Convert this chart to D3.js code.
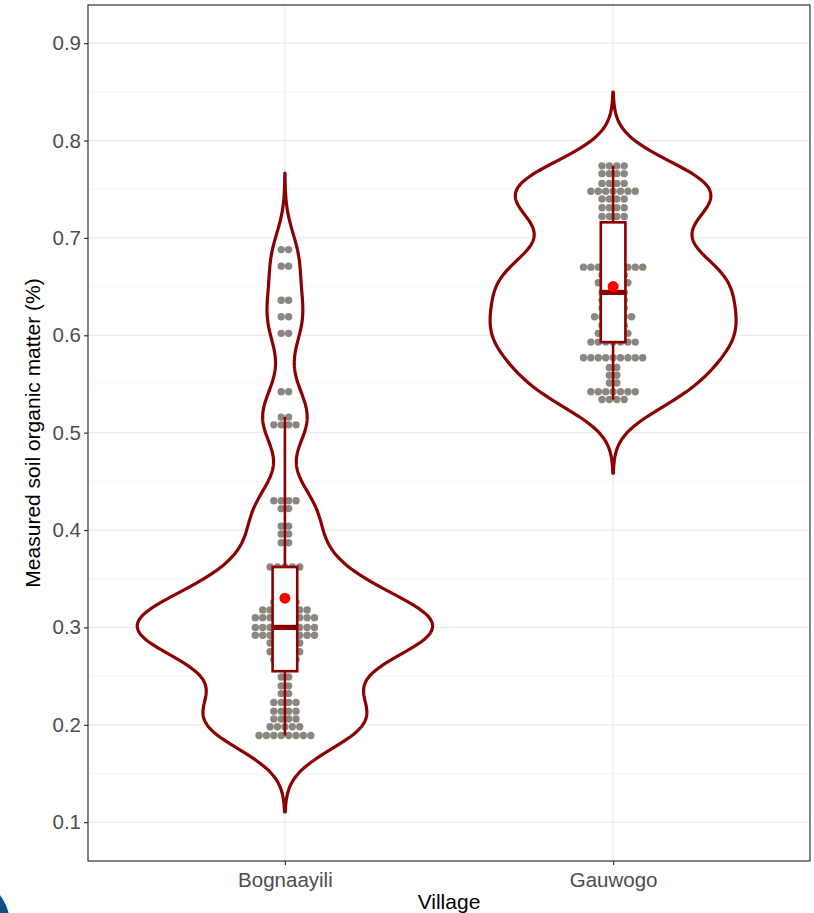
<!DOCTYPE html>
<html>
<head>
<meta charset="utf-8">
<script src="https://cdn.jsdelivr.net/npm/d3@7"></script>
<style>
  body { margin: 0; background: #fff; }
  text { font-family: "Liberation Sans", Arial, sans-serif; }
</style>
</head>
<body>
<div id="wrapper"></div>
<script>
// categories
const villages = ["Bognaayili", "Gauwogo"];

// dot rows: value of each row and number of dots in it
const bogRowValues = [0.189, 0.198, 0.206, 0.214, 0.223, 0.232, 0.240, 0.249, 0.259, 0.267, 0.275, 0.284, 0.292, 0.300, 0.310, 0.318, 0.326, 0.335, 0.344, 0.353, 0.362, 0.387, 0.396, 0.404, 0.422, 0.430, 0.508, 0.516, 0.542, 0.602, 0.619, 0.636, 0.671, 0.688];
const bogRowCounts = [8, 5, 4, 4, 4, 2, 2, 2, 2, 4, 5, 5, 9, 9, 9, 7, 4, 3, 3, 3, 5, 2, 2, 2, 2, 4, 4, 2, 2, 2, 2, 2, 2, 2];
const gauRowValues = [0.534, 0.542, 0.551, 0.559, 0.567, 0.577, 0.593, 0.602, 0.610, 0.619, 0.628, 0.636, 0.644, 0.654, 0.662, 0.670, 0.679, 0.688, 0.696, 0.705, 0.713, 0.722, 0.731, 0.740, 0.748, 0.756, 0.766, 0.774];
const gauRowCounts = [4, 7, 2, 2, 2, 9, 7, 5, 4, 6, 4, 4, 4, 5, 4, 9, 1, 2, 2, 2, 1, 4, 4, 4, 7, 4, 4, 4];

// box plot stats (Bognaayili, Gauwogo)
const boxLow = [0.189, 0.534];
const boxQ1 = [0.255, 0.593];
const boxMedian = [0.300, 0.644];
const boxQ3 = [0.362, 0.716];
const boxHigh = [0.516, 0.774];
const means = [0.330, 0.650];

const yTicks = [0.1, 0.2, 0.3, 0.4, 0.5, 0.6, 0.7, 0.8, 0.9];
const yMinor = [0.15, 0.25, 0.35, 0.45, 0.55, 0.65, 0.75, 0.85];

const rows = [
  {values: bogRowValues, counts: bogRowCounts},
  {values: gauRowValues, counts: gauRowCounts}
];

const width = 814, height = 913;
const margin = {top: 5, right: 4, bottom: 52, left: 88};
const dark = "#8b0000";

const svg = d3.select("#wrapper").append("svg")
  .attr("width", width)
  .attr("height", height);

const xScale = d3.scalePoint()
  .domain(villages)
  .range([margin.left, width - margin.right])
  .padding(0.6);

const yScale = d3.scaleLinear()
  .domain([0.0601, 0.9392])
  .range([height - margin.bottom, margin.top]);

// grid
svg.append("g").selectAll("line").data(yMinor).join("line")
  .attr("x1", margin.left).attr("x2", width - margin.right)
  .attr("y1", d => yScale(d)).attr("y2", d => yScale(d))
  .attr("stroke", "#f2f2f2").attr("stroke-width", 0.8);
svg.append("g").selectAll("line").data(yTicks).join("line")
  .attr("x1", margin.left).attr("x2", width - margin.right)
  .attr("y1", d => yScale(d)).attr("y2", d => yScale(d))
  .attr("stroke", "#ebebeb").attr("stroke-width", 1.3);
svg.append("g").selectAll("line").data(villages).join("line")
  .attr("x1", d => xScale(d)).attr("x2", d => xScale(d))
  .attr("y1", margin.top).attr("y2", height - margin.bottom)
  .attr("stroke", "#ebebeb").attr("stroke-width", 1.3);

// observations from the dot rows
const obs = rows.map(r => r.values.flatMap((v, i) => d3.range(r.counts[i]).map(() => v)));

// gaussian kde like R's density(), bw.nrd0, cut = 3
function nrd0(v) {
  const sd = d3.deviation(v);
  const iqr = (d3.quantile(v, 0.75) - d3.quantile(v, 0.25)) / 1.34;
  return 0.9 * Math.min(sd, iqr) * Math.pow(v.length, -0.2);
}
function kde(v) {
  const bw = nrd0(v);
  const lo = d3.min(v) - 3 * bw, hi = d3.max(v) + 3 * bw;
  const k = 1 / (v.length * bw * Math.sqrt(2 * Math.PI));
  return d3.range(512).map(i => {
    const t = lo + (hi - lo) * i / 511;
    return [t, k * d3.sum(v, xi => Math.exp(-0.5 * ((t - xi) / bw) ** 2))];
  });
}
const dens = obs.map(kde);
const maxDens = d3.max(dens, d => d3.max(d, p => p[1]));
const halfMax = 0.45 * xScale.step();

villages.forEach((v, i) => {
  const cx = xScale(v);
  const area = d3.area()
    .x0(d => cx - d[1] / maxDens * halfMax)
    .x1(d => cx + d[1] / maxDens * halfMax)
    .y(d => yScale(d[0]));
  svg.append("path")
    .attr("d", area(dens[i]))
    .attr("fill", "#fff")
    .attr("stroke", dark)
    .attr("stroke-width", 3.2)
    .attr("stroke-linejoin", "round");
});

// dots, stacked centred on each row
const dotD = 7.4;
villages.forEach((v, i) => {
  const cx = xScale(v);
  const pts = rows[i].values.flatMap((val, j) => {
    const n = rows[i].counts[j];
    return d3.range(n).map(k => ({val, off: (k - (n - 1) / 2) * dotD}));
  });
  svg.append("g").selectAll("circle").data(pts).join("circle")
    .attr("cx", d => cx + d.off)
    .attr("cy", d => yScale(d.val))
    .attr("r", dotD / 2)
    .attr("fill", "#8b8680");
});

// boxplots
const boxW = 0.075 * xScale.step();
villages.forEach((v, i) => {
  const cx = xScale(v);
  const g = svg.append("g");
  g.append("line")
    .attr("x1", cx).attr("x2", cx)
    .attr("y1", yScale(boxLow[i])).attr("y2", yScale(boxHigh[i]))
    .attr("stroke", dark).attr("stroke-width", 2.6);
  g.append("rect")
    .attr("x", cx - boxW / 2).attr("width", boxW)
    .attr("y", yScale(boxQ3[i])).attr("height", yScale(boxQ1[i]) - yScale(boxQ3[i]))
    .attr("fill", "#fff").attr("stroke", dark).attr("stroke-width", 2.6);
  g.append("line")
    .attr("x1", cx - boxW / 2).attr("x2", cx + boxW / 2)
    .attr("y1", yScale(boxMedian[i])).attr("y2", yScale(boxMedian[i]))
    .attr("stroke", dark).attr("stroke-width", 5.2);
  g.append("circle")
    .attr("cx", cx).attr("cy", yScale(means[i]))
    .attr("r", 5.5).attr("fill", "#ff0000");
});

// panel border
svg.append("rect")
  .attr("x", margin.left).attr("y", margin.top)
  .attr("width", width - margin.right - margin.left)
  .attr("height", height - margin.bottom - margin.top)
  .attr("fill", "none").attr("stroke", "#333").attr("stroke-width", 1.2);

// axes
const yAxis = d3.axisLeft(yScale).tickValues(yTicks).tickSize(4).tickPadding(3)
  .tickFormat(d3.format(".1f"));
const xAxis = d3.axisBottom(xScale).tickSize(4).tickPadding(7);

const gy = svg.append("g")
  .attr("transform", `translate(${margin.left},0)`)
  .call(yAxis);
const gx = svg.append("g")
  .attr("transform", `translate(0,${height - margin.bottom})`)
  .call(xAxis);
[gx, gy].forEach(g => {
  g.select(".domain").remove();
  g.selectAll(".tick line").attr("stroke", "#333").attr("stroke-width", 1.2);
  g.selectAll(".tick text").attr("fill", "#4d4d4d")
    .style("font-size", "20.5px").style("font-family", "Liberation Sans, Arial, sans-serif");
});

svg.append("text")
  .attr("x", (margin.left + width - margin.right) / 2)
  .attr("y", 909)
  .attr("text-anchor", "middle")
  .style("font-size", "21px")
  .text("Village");

svg.append("text")
  .attr("transform", `translate(40,${(margin.top + height - margin.bottom) / 2}) rotate(-90)`)
  .attr("text-anchor", "middle")
  .style("font-size", "21px")
  .text("Measured soil organic matter (%)");

// stray logo edge in the bottom-left corner of the source image
svg.append("circle")
  .attr("cx", -40).attr("cy", 925).attr("r", 50)
  .attr("fill", "#0d5484");
</script>
</body>
</html>
